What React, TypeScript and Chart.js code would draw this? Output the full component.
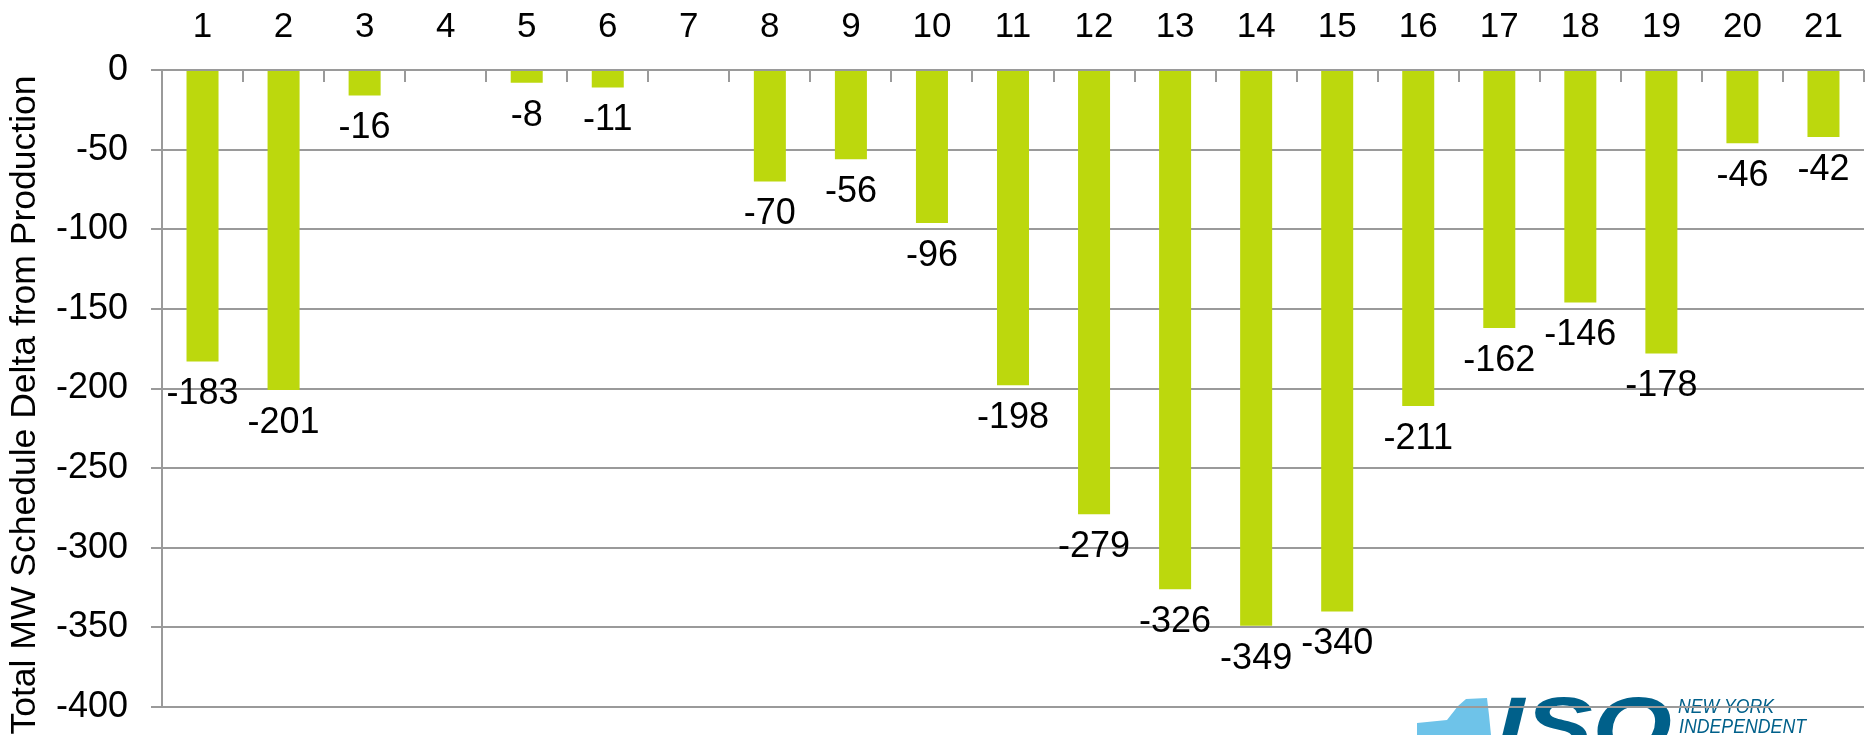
import React, { useEffect, useRef } from "react";
import { Chart, registerables } from "chart.js";

Chart.register(...registerables);

// ---- data ----
const categories: string[] = [
  "1", "2", "3", "4", "5", "6", "7", "8", "9", "10", "11",
  "12", "13", "14", "15", "16", "17", "18", "19", "20", "21",
];
const deltaValues: (number | null)[] = [
  -183, -201, -16, null, -8, -11, null, -70, -56, -96, -198,
  -279, -326, -349, -340, -211, -162, -146, -178, -46, -42,
];
const yMin = -400;
const yMax = 0;
const yStep = 50;
const yAxisTitle = "Total MW Schedule Delta from Production";
const logoMain = "ISO";
const logoLine1 = "NEW YORK";
const logoLine2 = "INDEPENDENT";

// ---- styles ----
const FONT = "'Liberation Sans', Arial, sans-serif";
const BAR_COLOR = "#BCD80D";
const GRID_COLOR = "#9a9a9a";
const LOGO_DARK = "#00608A";
const LOGO_LIGHT = "#6EC3E9";

const logoPlugin = {
  id: "logo",
  beforeDraw(chart: any) {
    const ctx = chart.ctx as CanvasRenderingContext2D;
    ctx.save();
    // light blue state silhouette
    ctx.fillStyle = LOGO_LIGHT;
    ctx.beginPath();
    ctx.moveTo(1417, 735);
    ctx.lineTo(1417, 723);
    ctx.lineTo(1447, 720);
    ctx.lineTo(1458, 706);
    ctx.lineTo(1466, 699);
    ctx.lineTo(1487, 698);
    ctx.lineTo(1489, 715);
    ctx.lineTo(1491, 735);
    ctx.closePath();
    ctx.fill();

    const fitText = (txt: string, font: string, x: number, y: number, w: number) => {
      ctx.font = font;
      const m = ctx.measureText(txt).width;
      ctx.save();
      ctx.translate(x, y);
      ctx.scale(w / m, 1);
      ctx.fillText(txt, 0, 0);
      ctx.restore();
    };
    ctx.fillStyle = LOGO_DARK;
    ctx.textBaseline = "alphabetic";
    ctx.textAlign = "left";
    fitText(logoMain, `italic bold 82px ${FONT}`, 1496, 754, 176);
    fitText(logoLine1, `italic 21px ${FONT}`, 1678, 713, 96);
    fitText(logoLine2, `italic 21px ${FONT}`, 1679, 733, 127);
    ctx.restore();
  },
};

const decorPlugin = {
  id: "decor",
  afterDatasetsDraw(chart: any) {
    const ctx = chart.ctx as CanvasRenderingContext2D;
    const xs = chart.scales.x;
    const area = chart.chartArea;
    ctx.save();
    // tick marks between categories, pointing down into plot
    const n = categories.length;
    const step = n > 1 ? xs.getPixelForValue(1) - xs.getPixelForValue(0) : xs.width;
    ctx.strokeStyle = GRID_COLOR;
    ctx.lineWidth = 2;
    for (let i = 0; i <= n; i++) {
      const px = Math.round(xs.getPixelForValue(0) - step / 2 + i * step);
      ctx.beginPath();
      ctx.moveTo(px, area.top);
      ctx.lineTo(px, area.top + 12);
      ctx.stroke();
    }
    // data labels
    const meta = chart.getDatasetMeta(0);
    ctx.fillStyle = "#000";
    ctx.font = `36px ${FONT}`;
    ctx.textAlign = "center";
    ctx.textBaseline = "middle";
    meta.data.forEach((bar: any, i: number) => {
      const v = deltaValues[i];
      if (v === null || v === undefined) return;
      ctx.fillText(String(v), bar.x, bar.y + 33);
    });
    // y axis title
    ctx.font = `35.5px ${FONT}`;
    ctx.textAlign = "center";
    ctx.textBaseline = "alphabetic";
    ctx.translate(35, 405);
    ctx.rotate(-Math.PI / 2);
    ctx.fillText(yAxisTitle, 0, 0);
    ctx.restore();
  },
};

export default function App() {
  const ref = useRef<HTMLCanvasElement | null>(null);
  useEffect(() => {
    if (!ref.current) return;
    const chart = new Chart(ref.current, {
      type: "bar",
      data: {
        labels: categories,
        datasets: [
          {
            data: deltaValues as any,
            backgroundColor: BAR_COLOR,
            borderWidth: 0,
            barPercentage: 0.395,
            categoryPercentage: 1,
          },
        ],
      },
      options: {
        responsive: false,
        animation: false,
        devicePixelRatio: 1,
        layout: { padding: { left: 0, top: 0, right: 2, bottom: 28 } },
        plugins: {
          legend: { display: false },
          tooltip: { enabled: false },
          title: { display: false },
        },
        scales: {
          x: {
            type: "category",
            position: "top",
            grid: { display: false, drawTicks: false },
            border: { display: false },
            ticks: {
              color: "#000",
              font: { family: FONT, size: 35 },
              padding: 22,
              maxRotation: 0,
              autoSkip: false,
            },
            afterFit: (s: any) => {
              s.height = 70;
              s.paddingLeft = 0;
              s.paddingRight = 0;
            },
          },
          y: {
            min: yMin,
            max: yMax,
            grid: {
              color: GRID_COLOR,
              lineWidth: 2,
              tickLength: 11,
              drawTicks: true,
            },
            border: { display: true, color: GRID_COLOR, width: 2 },
            ticks: {
              stepSize: yStep,
              color: "#000",
              font: { family: FONT, size: 36 },
              padding: 23,
            },
            afterFit: (s: any) => {
              s.width = 162;
              s.paddingTop = 0;
              s.paddingBottom = 0;
            },
          },
        },
      },
      plugins: [logoPlugin, decorPlugin],
    });
    return () => chart.destroy();
  }, []);
  return (
    <div style={{ position: "absolute", left: 0, top: 0, width: 1866, height: 735, background: "#fff" }}>
      <canvas ref={ref} width={1866} height={735} />
    </div>
  );
}
